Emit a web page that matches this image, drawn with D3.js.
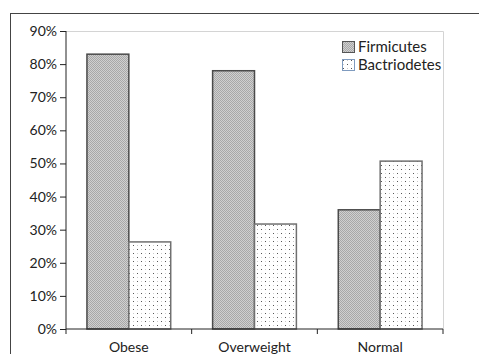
<!DOCTYPE html>
<html><head><meta charset="utf-8">
<script src="https://cdn.jsdelivr.net/npm/d3@7"></script>
<style>body{margin:0;background:#fff}svg{display:block}text{font-family:Lato,"Open Sans",sans-serif;fill:#222}</style>
</head><body><svg id="c" width="479" height="354"></svg>
<script>
const categories = ["Obese", "Overweight", "Normal"];
const seriesNames = ["Firmicutes", "Bactriodetes"];
const firmicutes = [0.83, 0.78, 0.36];
const bactriodetes = [0.263, 0.317, 0.507];
const yTicks = [0, 0.1, 0.2, 0.3, 0.4, 0.5, 0.6, 0.7, 0.8, 0.9];

const svg = d3.select("#c");
const defs = svg.append("defs");
const p1 = defs.append("pattern").attr("id","checker").attr("patternUnits","userSpaceOnUse").attr("width",2).attr("height",2);
p1.append("rect").attr("width",2).attr("height",2).attr("fill","#d0d0d0");
p1.append("rect").attr("width",1).attr("height",1).attr("fill","#a8a8a8");
p1.append("rect").attr("x",1).attr("y",1).attr("width",1).attr("height",1).attr("fill","#a8a8a8");
const p2 = defs.append("pattern").attr("id","dots").attr("patternUnits","userSpaceOnUse").attr("width",8).attr("height",8);
p2.append("rect").attr("width",8).attr("height",8).attr("fill","#fff");
p2.append("rect").attr("x",1).attr("y",1).attr("width",1).attr("height",1).attr("fill","#555");
p2.append("rect").attr("x",5).attr("y",5).attr("width",1).attr("height",1).attr("fill","#555");
p2.append("rect").attr("x",5).attr("y",1).attr("width",1).attr("height",1).attr("fill","#ccc");
p2.append("rect").attr("x",1).attr("y",5).attr("width",1).attr("height",1).attr("fill","#ccc");

// outer chart border
svg.append("rect").attr("x",10.5).attr("y",13.5).attr("width",490).attr("height",380)
  .attr("fill","none").attr("stroke","#444").attr("stroke-width",1);

const pL = 66, pR = 443, pT = 31, pB = 329;
// plot area border
svg.append("path").attr("d",`M${pL},${pT+0.5}H${pR+0.5}V${pB}`).attr("fill","none").attr("stroke","#d4d4d4");

const x = d3.scaleBand().domain(categories).range([pL, pR]).paddingInner(0).paddingOuter(0);
const y = d3.scaleLinear().domain([0, 0.9]).range([pB, pT]);
const inner = d3.scaleBand().domain(seriesNames).range([0, x.bandwidth()]).paddingOuter(0.5).paddingInner(0);

const data = categories.map((c,i)=>({c, vals:[firmicutes[i], bactriodetes[i]]}));
const fills = ["url(#checker)","url(#dots)"];
const strokes = ["#4a4a4a","#707070"];
const g = svg.append("g");
data.forEach(d=>{
  d.vals.forEach((v,j)=>{
    g.append("rect")
      .attr("x", x(d.c)+inner(seriesNames[j]))
      .attr("y", y(v))
      .attr("width", inner.bandwidth())
      .attr("height", y(0)-y(v))
      .attr("fill", fills[j]).attr("stroke", strokes[j]).attr("stroke-width",1.5);
  });
});

// y axis
const yAxis = svg.append("g").attr("transform",`translate(${pL},0)`)
  .call(d3.axisLeft(y).tickValues(yTicks).tickFormat(d3.format(".0%")).tickSize(6).tickPadding(3));
yAxis.select(".domain").attr("stroke","#222").attr("d",`M0,${pT}V${pB+5}`);
yAxis.selectAll(".tick line").attr("stroke","#222");
yAxis.selectAll("text").attr("font-size",14).attr("fill","#333").style("font-family","Lato,sans-serif");

// x axis
const xAxis = svg.append("g").attr("transform",`translate(0,${pB})`)
  .call(d3.axisBottom(x).tickSize(0));
xAxis.select(".domain").attr("stroke","#222").attr("d",`M${pL},0H${pR}`);
xAxis.selectAll("text").attr("y",23).attr("dy",0).attr("font-size",14).attr("fill","#333").style("font-family","Lato,sans-serif");
const bounds = categories.slice(1).map(c=>x(c)).concat([pR]);
svg.append("g").selectAll("line").data(bounds).join("line")
  .attr("x1",d=>d).attr("x2",d=>d).attr("y1",pB).attr("y2",pB+5).attr("stroke","#222");

// legend
const lg = svg.append("g").attr("transform","translate(342,41)");
seriesNames.forEach((s,j)=>{
  const row = lg.append("g").attr("transform",`translate(0,${j*18})`);
  row.append("rect").attr("x",0.5).attr("y",0.5).attr("width",12).attr("height",11)
    .attr("fill",fills[j]).attr("stroke", j===0?"#555":"#7f9bbf").attr("stroke-width",1);
  row.append("text").attr("x",16).attr("y",11).attr("font-size",15).text(s);
});
</script></body></html>
